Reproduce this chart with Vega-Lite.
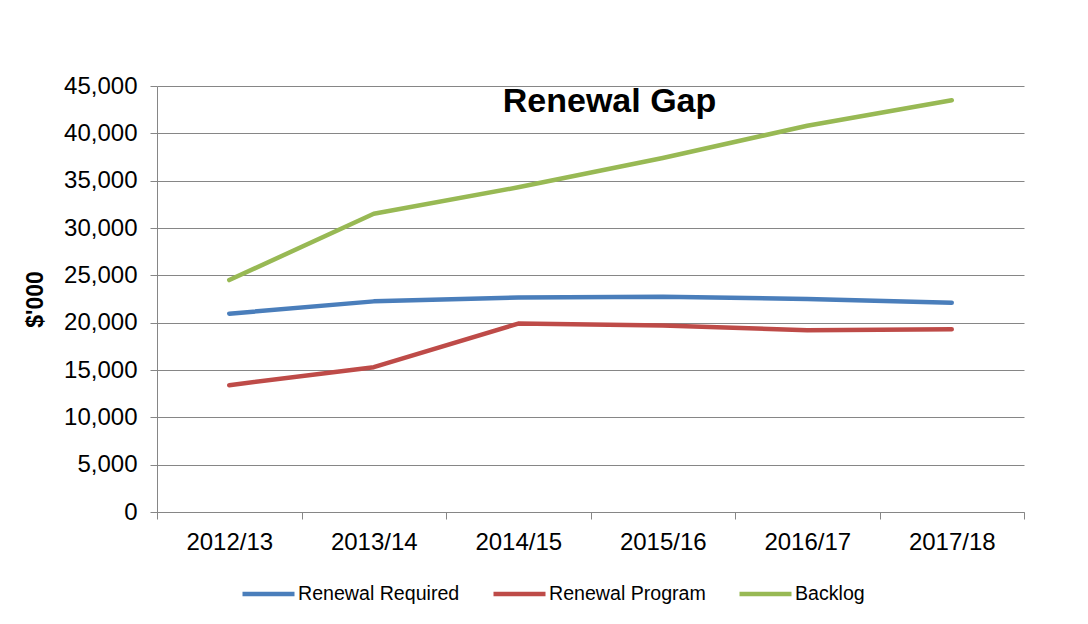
{
  "$schema": "https://vega.github.io/schema/vega-lite/v6.json",
  "autosize": {"type": "none"},
  "width": 867,
  "height": 426,
  "padding": {"left": 157, "top": 86, "right": 64, "bottom": 112},
  "background": "white",
  "config": {
    "font": "Liberation Sans",
    "view": {"stroke": null}
  },
  "title": {
    "text": "Renewal Gap",
    "fontSize": 34,
    "fontWeight": "bold",
    "font": "Liberation Sans",
    "color": "#000000",
    "anchor": "middle",
    "baseline": "alphabetic",
    "offset": 0,
    "dx": 19,
    "dy": 72
  },
  "data": {
    "values": [
      {"year": "2012/13", "series": "Renewal Required", "value": 20950},
      {"year": "2013/14", "series": "Renewal Required", "value": 22250},
      {"year": "2014/15", "series": "Renewal Required", "value": 22650},
      {"year": "2015/16", "series": "Renewal Required", "value": 22750},
      {"year": "2016/17", "series": "Renewal Required", "value": 22500},
      {"year": "2017/18", "series": "Renewal Required", "value": 22100},
      {"year": "2012/13", "series": "Renewal Program", "value": 13400},
      {"year": "2013/14", "series": "Renewal Program", "value": 15300},
      {"year": "2014/15", "series": "Renewal Program", "value": 19900},
      {"year": "2015/16", "series": "Renewal Program", "value": 19700},
      {"year": "2016/17", "series": "Renewal Program", "value": 19200},
      {"year": "2017/18", "series": "Renewal Program", "value": 19300},
      {"year": "2012/13", "series": "Backlog", "value": 24500},
      {"year": "2013/14", "series": "Backlog", "value": 31500},
      {"year": "2014/15", "series": "Backlog", "value": 34300},
      {"year": "2015/16", "series": "Backlog", "value": 37400},
      {"year": "2016/17", "series": "Backlog", "value": 40800},
      {"year": "2017/18", "series": "Backlog", "value": 43500}
    ]
  },
  "mark": {"type": "line", "strokeWidth": 4.5, "strokeCap": "round", "strokeJoin": "round"},
  "encoding": {
    "x": {
      "field": "year",
      "type": "ordinal",
      "bandPosition": 0.5,
      "scale": {"type": "band", "paddingInner": 0, "paddingOuter": 0},
      "axis": {
        "title": null,
        "labelAngle": 0,
        "labelFontSize": 24,
        "labelColor": "#000000",
        "labelPadding": 11,
        "tickBand": "extent",
        "tickSize": 7,
        "tickColor": "#868686",
        "domainColor": "#868686",
        "grid": false
      }
    },
    "y": {
      "field": "value",
      "type": "quantitative",
      "scale": {"domain": [0, 45000], "nice": false},
      "axis": {
        "title": "$'000",
        "titleFontSize": 23,
        "titleFontWeight": "bold",
        "titleColor": "#000000",
        "titleX": -122,
        "titleY": 213,
        "titleAngle": 270,
        "titleAlign": "center",
        "titleBaseline": "middle",
        "values": [0, 5000, 10000, 15000, 20000, 25000, 30000, 35000, 40000, 45000],
        "format": ",.0f",
        "labelFontSize": 24,
        "labelColor": "#000000",
        "labelPadding": 13,
        "tickSize": 7,
        "tickColor": "#868686",
        "domainColor": "#868686",
        "grid": true,
        "gridColor": "#868686",
        "gridWidth": 1
      }
    },
    "color": {
      "field": "series",
      "type": "nominal",
      "sort": ["Renewal Required", "Renewal Program", "Backlog"],
      "scale": {
        "domain": ["Renewal Required", "Renewal Program", "Backlog"],
        "range": ["#4A7EBB", "#BE4B48", "#98B954"]
      },
      "legend": {
        "title": null,
        "orient": "none",
        "direction": "horizontal",
        "legendX": 83,
        "legendY": 479,
        "symbolType": "stroke",
        "symbolSize": 2704,
        "symbolStrokeWidth": 4.5,
        "symbolOffset": 0,
        "labelFontSize": 19.6,
        "labelLimit": 0,
        "labelColor": "#000000",
        "labelOffset": 1,
        "columnPadding": 24
      }
    }
  }
}
